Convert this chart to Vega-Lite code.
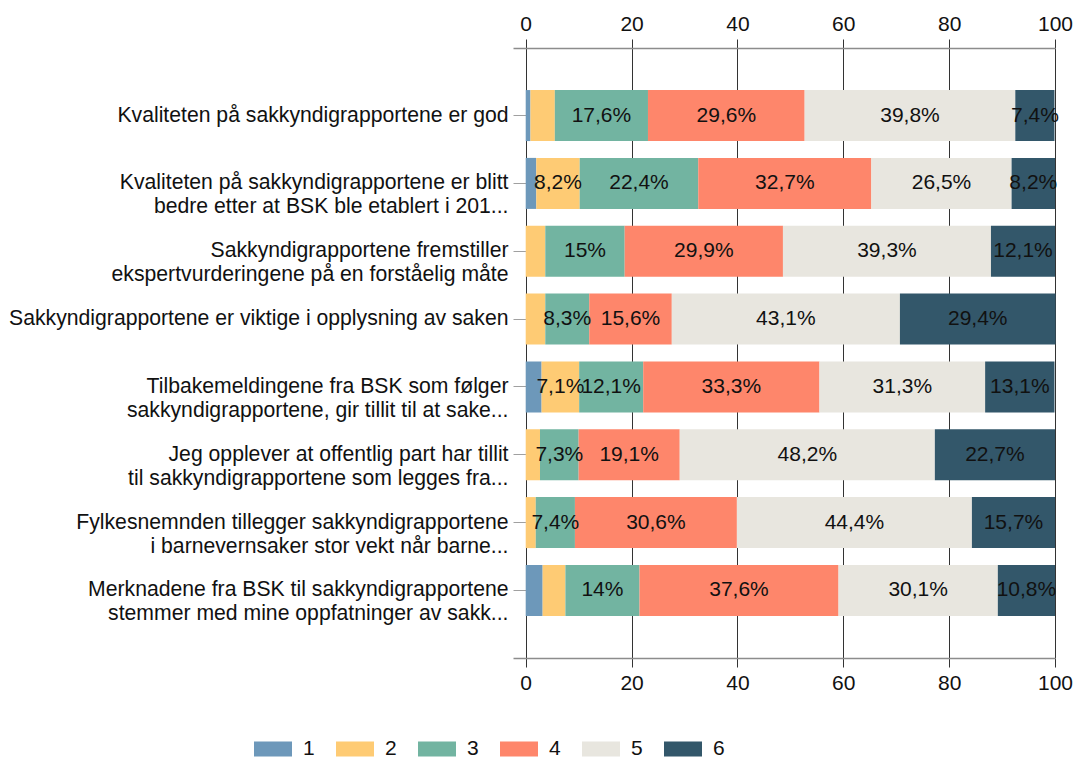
{
  "$schema": "https://vega.github.io/schema/vega-lite/v6.json",
  "autosize": "none",
  "width": 542,
  "height": 610,
  "padding": {"left": 513, "top": 48, "right": 19, "bottom": 102},
  "config": {
    "font": "Liberation Sans",
    "view": {"stroke": null},
    "axis": {"labelFont": "Liberation Sans", "labelColor": "#111111"}
  },
  "data": {
    "values": [
      {"q": "Kvaliteten på sakkyndigrapportene er god", "svar": "1", "value": 0.9},
      {"q": "Kvaliteten på sakkyndigrapportene er god", "svar": "2", "value": 4.6},
      {"q": "Kvaliteten på sakkyndigrapportene er god", "svar": "3", "value": 17.6},
      {"q": "Kvaliteten på sakkyndigrapportene er god", "svar": "4", "value": 29.6},
      {"q": "Kvaliteten på sakkyndigrapportene er god", "svar": "5", "value": 39.8},
      {"q": "Kvaliteten på sakkyndigrapportene er god", "svar": "6", "value": 7.4},
      {"q": "Kvaliteten på sakkyndigrapportene er blitt|bedre etter at BSK ble etablert i 201...", "svar": "1", "value": 2.0},
      {"q": "Kvaliteten på sakkyndigrapportene er blitt|bedre etter at BSK ble etablert i 201...", "svar": "2", "value": 8.2},
      {"q": "Kvaliteten på sakkyndigrapportene er blitt|bedre etter at BSK ble etablert i 201...", "svar": "3", "value": 22.4},
      {"q": "Kvaliteten på sakkyndigrapportene er blitt|bedre etter at BSK ble etablert i 201...", "svar": "4", "value": 32.7},
      {"q": "Kvaliteten på sakkyndigrapportene er blitt|bedre etter at BSK ble etablert i 201...", "svar": "5", "value": 26.5},
      {"q": "Kvaliteten på sakkyndigrapportene er blitt|bedre etter at BSK ble etablert i 201...", "svar": "6", "value": 8.2},
      {"q": "Sakkyndigrapportene fremstiller|ekspertvurderingene på en forståelig måte", "svar": "2", "value": 3.7},
      {"q": "Sakkyndigrapportene fremstiller|ekspertvurderingene på en forståelig måte", "svar": "3", "value": 15},
      {"q": "Sakkyndigrapportene fremstiller|ekspertvurderingene på en forståelig måte", "svar": "4", "value": 29.9},
      {"q": "Sakkyndigrapportene fremstiller|ekspertvurderingene på en forståelig måte", "svar": "5", "value": 39.3},
      {"q": "Sakkyndigrapportene fremstiller|ekspertvurderingene på en forståelig måte", "svar": "6", "value": 12.1},
      {"q": "Sakkyndigrapportene er viktige i opplysning av saken", "svar": "2", "value": 3.7},
      {"q": "Sakkyndigrapportene er viktige i opplysning av saken", "svar": "3", "value": 8.3},
      {"q": "Sakkyndigrapportene er viktige i opplysning av saken", "svar": "4", "value": 15.6},
      {"q": "Sakkyndigrapportene er viktige i opplysning av saken", "svar": "5", "value": 43.1},
      {"q": "Sakkyndigrapportene er viktige i opplysning av saken", "svar": "6", "value": 29.4},
      {"q": "Tilbakemeldingene fra BSK som følger|sakkyndigrapportene, gir tillit til at sake...", "svar": "1", "value": 3.0},
      {"q": "Tilbakemeldingene fra BSK som følger|sakkyndigrapportene, gir tillit til at sake...", "svar": "2", "value": 7.1},
      {"q": "Tilbakemeldingene fra BSK som følger|sakkyndigrapportene, gir tillit til at sake...", "svar": "3", "value": 12.1},
      {"q": "Tilbakemeldingene fra BSK som følger|sakkyndigrapportene, gir tillit til at sake...", "svar": "4", "value": 33.3},
      {"q": "Tilbakemeldingene fra BSK som følger|sakkyndigrapportene, gir tillit til at sake...", "svar": "5", "value": 31.3},
      {"q": "Tilbakemeldingene fra BSK som følger|sakkyndigrapportene, gir tillit til at sake...", "svar": "6", "value": 13.1},
      {"q": "Jeg opplever at offentlig part har tillit|til sakkyndigrapportene som legges fra...", "svar": "2", "value": 2.7},
      {"q": "Jeg opplever at offentlig part har tillit|til sakkyndigrapportene som legges fra...", "svar": "3", "value": 7.3},
      {"q": "Jeg opplever at offentlig part har tillit|til sakkyndigrapportene som legges fra...", "svar": "4", "value": 19.1},
      {"q": "Jeg opplever at offentlig part har tillit|til sakkyndigrapportene som legges fra...", "svar": "5", "value": 48.2},
      {"q": "Jeg opplever at offentlig part har tillit|til sakkyndigrapportene som legges fra...", "svar": "6", "value": 22.7},
      {"q": "Fylkesnemnden tillegger sakkyndigrapportene|i barnevernsaker stor vekt når barne...", "svar": "2", "value": 1.9},
      {"q": "Fylkesnemnden tillegger sakkyndigrapportene|i barnevernsaker stor vekt når barne...", "svar": "3", "value": 7.4},
      {"q": "Fylkesnemnden tillegger sakkyndigrapportene|i barnevernsaker stor vekt når barne...", "svar": "4", "value": 30.6},
      {"q": "Fylkesnemnden tillegger sakkyndigrapportene|i barnevernsaker stor vekt når barne...", "svar": "5", "value": 44.4},
      {"q": "Fylkesnemnden tillegger sakkyndigrapportene|i barnevernsaker stor vekt når barne...", "svar": "6", "value": 15.7},
      {"q": "Merknadene fra BSK til sakkyndigrapportene|stemmer med mine oppfatninger av sakk...", "svar": "1", "value": 3.2},
      {"q": "Merknadene fra BSK til sakkyndigrapportene|stemmer med mine oppfatninger av sakk...", "svar": "2", "value": 4.3},
      {"q": "Merknadene fra BSK til sakkyndigrapportene|stemmer med mine oppfatninger av sakk...", "svar": "3", "value": 14},
      {"q": "Merknadene fra BSK til sakkyndigrapportene|stemmer med mine oppfatninger av sakk...", "svar": "4", "value": 37.6},
      {"q": "Merknadene fra BSK til sakkyndigrapportene|stemmer med mine oppfatninger av sakk...", "svar": "5", "value": 30.1},
      {"q": "Merknadene fra BSK til sakkyndigrapportene|stemmer med mine oppfatninger av sakk...", "svar": "6", "value": 10.8}
    ]
  },
  "transform": [
    {"stack": "value", "groupby": ["q"], "sort": [{"field": "svar", "order": "ascending"}], "as": ["v0", "v1"]},
    {"calculate": "(datum.v0 + datum.v1) / 2", "as": "mid"},
    {"calculate": "replace(format(datum.value, '.1~f'), '.', ',') + '%'", "as": "lbl"}
  ],
  "encoding": {
    "y": {
      "field": "q",
      "type": "nominal",
      "sort": null,
      "scale": {"paddingInner": 0.248, "paddingOuter": 0.62},
      "axis": {
        "title": null,
        "domain": false,
        "offset": -12.7,
        "tickSize": 12.7,
        "tickColor": "#a0a0a0",
        "tickWidth": 1,
        "labelPadding": 5,
        "labelFontSize": 21.2,
        "labelLineHeight": 24,
        "labelLimit": 0,
        "labelExpr": "split(datum.label, '|')"
      }
    }
  },
  "layer": [
    {
      "mark": {"type": "bar"},
      "encoding": {
        "x": {
          "field": "v0",
          "type": "quantitative",
          "scale": {"domain": [-2.4, 100], "nice": false, "zero": false},
          "axis": {
            "orient": "bottom",
            "title": null,
            "values": [0, 20, 40, 60, 80, 100],
            "grid": true,
            "gridColor": "#333333",
            "gridWidth": 1,
            "gridOpacity": 1,
            "domainColor": "#8c8c8c",
            "domainWidth": 1.5,
            "tickColor": "#333333",
            "tickSize": 9,
            "labelFontSize": 21,
            "labelPadding": 5,
            "labelFlush": false
          }
        },
        "x2": {"field": "v1"},
        "color": {
          "field": "svar",
          "type": "nominal",
          "scale": {
            "domain": ["1", "2", "3", "4", "5", "6"],
            "range": ["#6d98ba", "#fecb74", "#72b4a1", "#fe866b", "#e8e6df", "#33576a"]
          },
          "legend": {
            "title": null,
            "orient": "none",
            "direction": "horizontal",
            "columns": 6,
            "legendX": -259,
            "legendY": 682,
            "symbolType": "M-1,-0.4L1,-0.4L1,0.4L-1,0.4Z",
            "symbolSize": 1444,
            "symbolStrokeWidth": 0,
            "symbolOpacity": 1,
            "labelFontSize": 21,
            "labelColor": "#111111",
            "labelOffset": 11,
            "columnPadding": 21
          }
        }
      }
    },
    {
      "transform": [{"filter": "datum.value >= 5"}],
      "mark": {"type": "text", "fontSize": 21, "color": "#111111", "align": "center", "baseline": "middle"},
      "encoding": {
        "x": {
          "field": "mid",
          "type": "quantitative",
          "scale": {"domain": [-2.4, 100], "nice": false, "zero": false},
          "axis": {
            "orient": "top",
            "title": null,
            "values": [0, 20, 40, 60, 80, 100],
            "grid": false,
            "domainColor": "#8c8c8c",
            "domainWidth": 1.5,
            "tickColor": "#333333",
            "tickSize": 9,
            "labelFontSize": 21,
            "labelPadding": 5,
            "labelFlush": false
          }
        },
        "text": {"field": "lbl"}
      }
    }
  ],
  "resolve": {"axis": {"x": "independent"}}
}
